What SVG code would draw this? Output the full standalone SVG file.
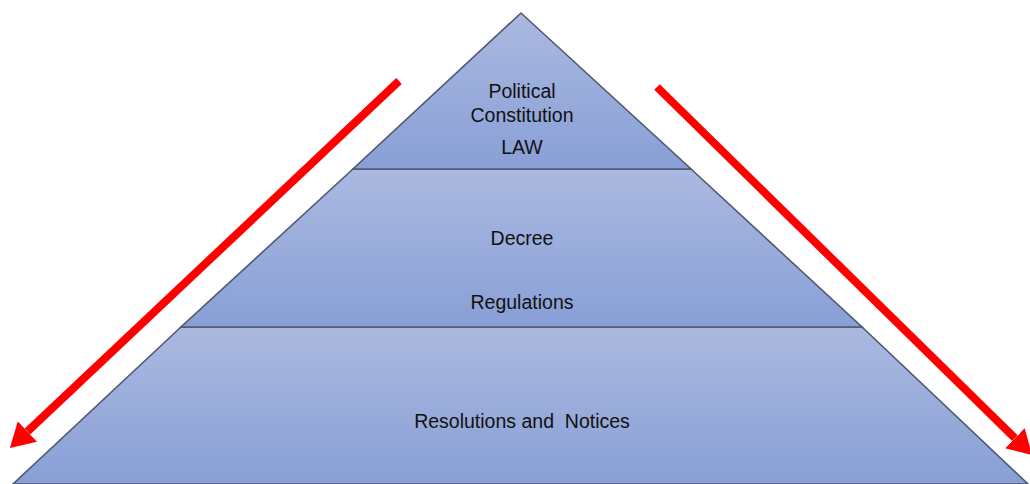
<svg xmlns="http://www.w3.org/2000/svg" width="1030" height="484" viewBox="0 0 1030 484">
<defs>
<linearGradient id="g" x1="0" y1="0" x2="0" y2="1">
<stop offset="0" stop-color="#abb9e0"/>
<stop offset="1" stop-color="#889fd6"/>
</linearGradient>
<marker id="ah" markerUnits="userSpaceOnUse" markerWidth="24" markerHeight="28" viewBox="0 0 24 28" refX="0" refY="14" orient="auto">
<path d="M0,0 L24,14 L0,28 Z" fill="#ff0000"/>
</marker>
<style>
.layer{fill:url(#g);stroke:#505a72;stroke-width:1.6;}
.t{font-family:"Liberation Sans",Arial,sans-serif;font-size:19.5px;fill:#111;text-anchor:middle;white-space:pre;}
.arrow{stroke:#ff0000;stroke-width:8;fill:none;marker-end:url(#ah);}
</style>
</defs>
<g id="layer-bottom">
<polygon class="layer" points="181,327 862,327 1028,484 13,484"/>
<text class="t" x="522" y="428" xml:space="preserve">Resolutions and  Notices</text>
</g>
<g id="layer-middle">
<polygon class="layer" points="353,169 691,169 862,327 181,327"/>
<text class="t" x="522" y="245">Decree</text>
<text class="t" x="522" y="309">Regulations</text>
</g>
<g id="layer-top">
<polygon class="layer" points="521,13 691,169 353,169"/>
<text class="t" x="522" y="98">Political</text>
<text class="t" x="522" y="122">Constitution</text>
<text class="t" x="522" y="154">LAW</text>
</g>
<g id="connectors">
<line class="arrow" x1="399" y1="81" x2="27.4" y2="431.5"/>
<line class="arrow" x1="657" y1="87" x2="1014.9" y2="438.2"/>
</g>
</svg>
